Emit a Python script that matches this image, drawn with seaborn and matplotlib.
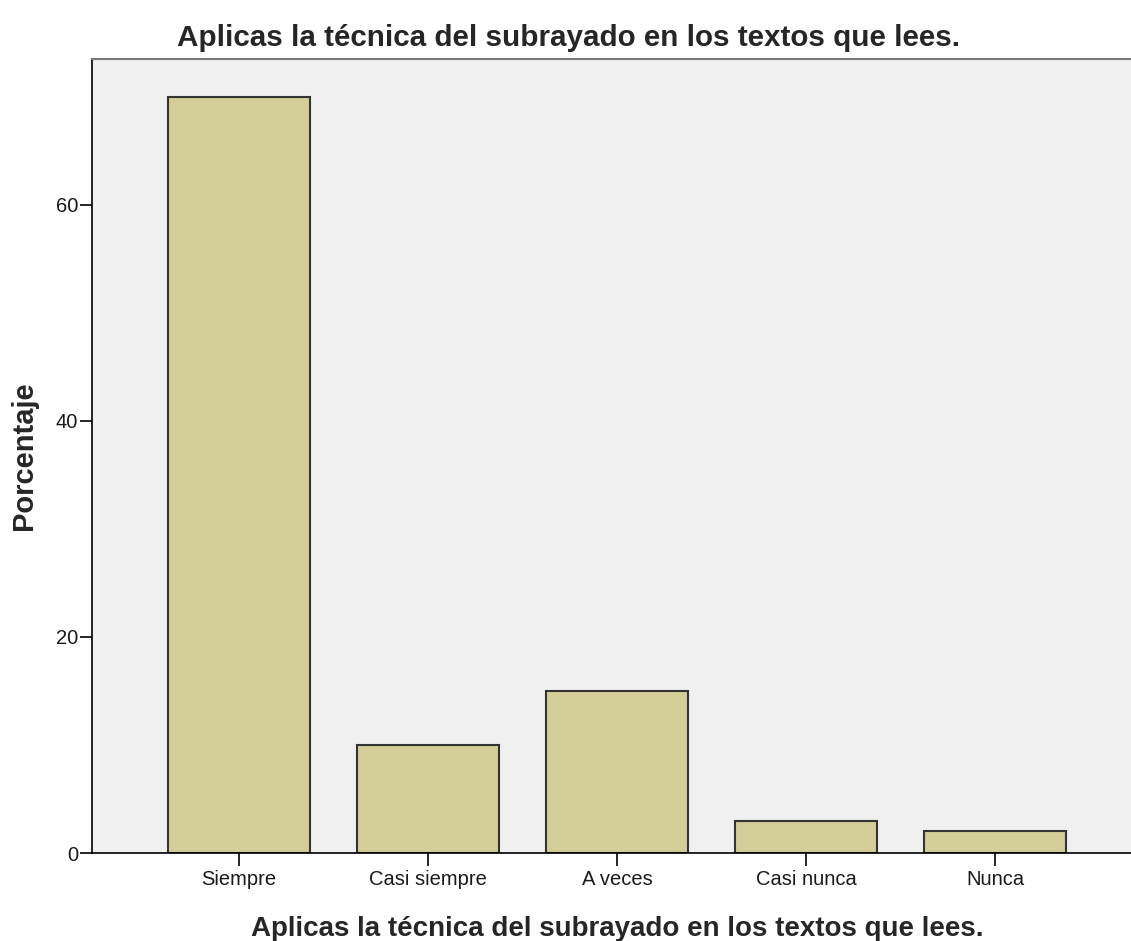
import pandas as pd
import seaborn as sns
import matplotlib.pyplot as plt

################################################################################
categorias = ['Siempre', 'Casi siempre', 'A veces', 'Casi nunca', 'Nunca']
porcentaje = [70, 10, 15, 3, 2]
y_ticks = [0, 20, 40, 60]
titulo = 'Aplicas la técnica del subrayado en los textos que lees.'

################################################################################
sns.set_style('white')
plt.rcParams['font.family'] = ['Liberation Sans', 'DejaVu Sans']

df = pd.DataFrame({'categoria': categorias, 'porcentaje': porcentaje})

fig = plt.figure(figsize=(11.31, 9.41), dpi=100)
# the plot area runs a little past the right edge of the picture
ax = fig.add_axes([0.0813, 0.0935, 0.9284, 0.8437])
ax.set_facecolor('#F0F0F0')

sns.barplot(data=df, x='categoria', y='porcentaje', color='#D3CE97',
            saturation=1, edgecolor='#333333', linewidth=1.5, width=0.75, ax=ax)

ax.set_xlim(-0.778, 4.778)
ax.set_ylim(0, 73.5)
ax.set_yticks(y_ticks)
ax.tick_params(axis='both', direction='out', length=9, width=1.2, color='black',
               labelsize=14.5, labelcolor='#1a1a1a', left=True, bottom=True)
ax.tick_params(axis='y', pad=1)
ax.tick_params(axis='x', pad=3)

for side in ['left', 'bottom']:
    ax.spines[side].set_color('black')
    ax.spines[side].set_linewidth(1.2)
ax.spines['top'].set_color('#777777')
ax.spines['top'].set_linewidth(1.5)
ax.spines['right'].set_visible(False)

ax.set_xlabel(titulo, fontsize=20, fontweight='bold', labelpad=20)
ax.set_ylabel('Porcentaje', fontsize=21, fontweight='bold', labelpad=13)
fig.suptitle(titulo, fontsize=21.3, fontweight='bold', x=0.503, y=0.974)

plt.savefig('out.png', dpi=100)
